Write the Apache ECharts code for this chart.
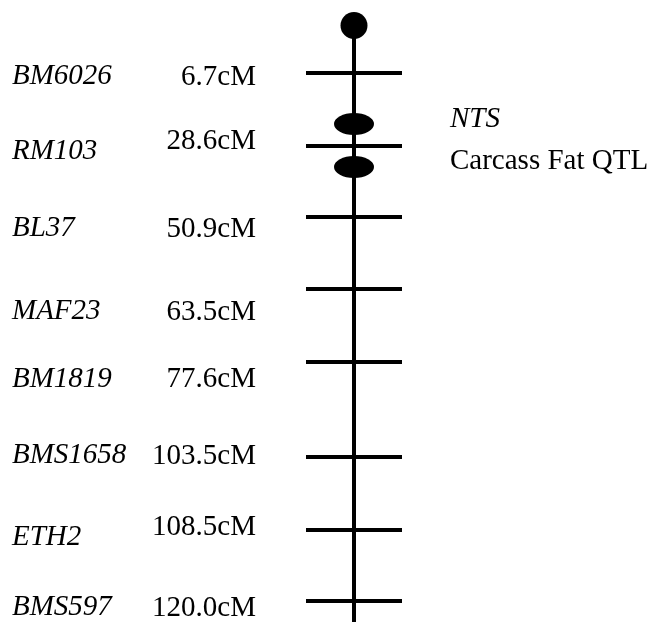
<!DOCTYPE html>
<html>
<head>
<meta charset="utf-8">
<script src="https://cdn.jsdelivr.net/npm/echarts@6/dist/echarts.min.js"></script>
<style>
  html, body { margin: 0; padding: 0; background: #fff; }
  #chart { width: 652px; height: 622px; }
</style>
</head>
<body>
<div id="chart"></div>
<script>
// marker names and genetic distances
const markers = ["BM6026", "RM103", "BL37", "MAF23", "BM1819", "BMS1658", "ETH2", "BMS597"];
const distances = [6.7, 28.6, 50.9, 63.5, 77.6, 103.5, 108.5, 120.0];
// drawn position along the chromosome (map units from top)
const markerPos = [73, 146, 217, 289, 362, 457, 530, 601];
// where each name / distance label sits along the map
const namePos = [76.5, 151, 228.5, 311.5, 379, 455.5, 537.5, 607.5];
const distPos = [77.5, 141, 229, 312, 379, 456, 527.5, 608];
// chromosome span, centromere, QTL blobs
const chromSpan = [25, 622];
const centromerePos = 25.5;
const qtlPos = [124, 167];
const qtlLabels = ["NTS", "Carcass Fat QTL"];
const qtlLabelPos = [119, 161];
const qtlItalic = [true, false];

const FONT = "'Liberation Serif', 'Times New Roman', serif";
const FS = 29;

const chart = echarts.init(document.getElementById("chart"));

const rows = markers.map((m, i) => [markerPos[i], namePos[i], distPos[i], i]);

const option = {
  animation: false,
  grid: { left: 0, right: 0, top: 0, bottom: 0 },
  xAxis: { type: "value", min: -354, max: 298, show: false },
  yAxis: { type: "value", min: 0, max: 622, inverse: true, show: false },
  series: [
    {
      // chromosome backbone
      type: "line",
      data: chromSpan.map((y) => [0, y]),
      showSymbol: false,
      lineStyle: { color: "#000", width: 4 },
      z: 1,
    },
    {
      // marker ticks + labels
      type: "custom",
      data: rows,
      z: 2,
      renderItem: (params, api) => {
        const p = api.coord([0, api.value(0)]);
        const pn = api.coord([0, api.value(1)]);
        const pd = api.coord([0, api.value(2)]);
        const i = api.value(3);
        return {
          type: "group",
          children: [
            {
              type: "line",
              shape: { x1: p[0] - 48, y1: p[1], x2: p[0] + 48, y2: p[1] },
              style: { stroke: "#000", lineWidth: 4 },
            },
            {
              type: "text",
              style: {
                x: p[0] - 342,
                y: pn[1],
                text: markers[i],
                font: "italic " + FS + "px " + FONT,
                fill: "#000",
                textAlign: "left",
                textVerticalAlign: "middle",
              },
            },
            {
              type: "text",
              style: {
                x: p[0] - 98,
                y: pd[1],
                text: distances[i].toFixed(1) + "cM",
                font: FS + "px " + FONT,
                fill: "#000",
                textAlign: "right",
                textVerticalAlign: "middle",
              },
            },
          ],
        };
      },
    },
    {
      // centromere
      type: "scatter",
      data: [[0, centromerePos]],
      symbol: "circle",
      symbolSize: 27,
      itemStyle: { color: "#000", opacity: 1 },
      z: 3,
    },
    {
      // QTL blobs
      type: "scatter",
      data: qtlPos.map((y) => [0, y]),
      symbol: "circle",
      symbolSize: [40, 22],
      itemStyle: { color: "#000", opacity: 1 },
      z: 3,
    },
    {
      // QTL labels
      type: "custom",
      data: qtlLabelPos.map((y, i) => [y, i]),
      renderItem: (params, api) => {
        const p = api.coord([0, api.value(0)]);
        const i = api.value(1);
        return {
          type: "text",
          style: {
            x: p[0] + 96,
            y: p[1],
            text: qtlLabels[i],
            font: (qtlItalic[i] ? "italic " : "") + FS + "px " + FONT,
            fill: "#000",
            textAlign: "left",
            textVerticalAlign: "middle",
          },
        };
      },
    },
  ],
};
chart.setOption(option);
</script>
</body>
</html>
